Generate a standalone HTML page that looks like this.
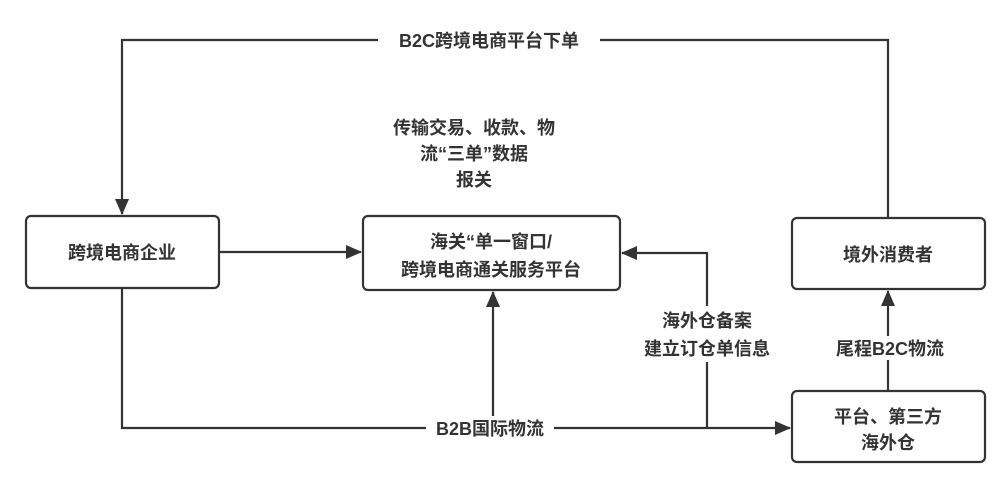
<!DOCTYPE html>
<html><head><meta charset="utf-8"><style>
html,body{margin:0;padding:0;background:#fff;}
svg{display:block;}
text{font-family:"Liberation Sans","Noto Sans CJK SC",sans-serif;font-weight:bold;font-size:18px;fill:#333;}
</style></head><body>
<svg width="1003" height="479" viewBox="0 0 1003 479" xmlns="http://www.w3.org/2000/svg">
<defs><marker id="b" markerWidth="16" markerHeight="14" refX="15" refY="7" orient="auto" markerUnits="userSpaceOnUse"><path d="M0,0 L16,7 L0,14 z" fill="#333"/></marker></defs>
<g stroke="#333" stroke-width="2.2" fill="none">
<rect x="26" y="216" width="193" height="72" rx="5"/>
<rect x="363" y="216" width="257" height="74" rx="5"/>
<rect x="792" y="218" width="193" height="71" rx="5"/>
<rect x="792" y="391" width="193" height="71" rx="5"/>
<path d="M888 218 V40 H122 V214" marker-end="url(#b)"/>
<path d="M219 252 H361" marker-end="url(#b)"/>
<path d="M122 288 V428 H790" marker-end="url(#b)"/>
<path d="M493 428 V292" marker-end="url(#b)"/>
<path d="M707 428 V253 H622" marker-end="url(#b)"/>
<path d="M888 391 V291" marker-end="url(#b)"/>
</g>
<rect x="378" y="28" width="222" height="24" fill="#fff"/>
<text x="489" y="47" text-anchor="middle">B2C跨境电商平台下单</text>
<rect x="426" y="416" width="128" height="24" fill="#fff"/>
<text x="490" y="435" text-anchor="middle">B2B国际物流</text>
<rect x="640" y="306" width="134" height="56" fill="#fff"/>
<text x="707" y="327" text-anchor="middle">海外仓备案</text>
<text x="707" y="355" text-anchor="middle">建立订仓单信息</text>
<rect x="830" y="336" width="124" height="24" fill="#fff"/>
<text x="890" y="355" text-anchor="middle">尾程B2C物流</text>
<text x="474" y="134" text-anchor="middle">传输交易、收款、物</text>
<text x="474" y="160" text-anchor="middle">流“三单”数据</text>
<text x="474" y="186" text-anchor="middle">报关</text>
<text x="122" y="259" text-anchor="middle">跨境电商企业</text>
<text x="491" y="248" text-anchor="middle">海关“单一窗口/</text>
<text x="491" y="276" text-anchor="middle">跨境电商通关服务平台</text>
<text x="888" y="261" text-anchor="middle">境外消费者</text>
<text x="888" y="423" text-anchor="middle">平台、第三方</text>
<text x="888" y="449" text-anchor="middle">海外仓</text>
</svg>
</body></html>
